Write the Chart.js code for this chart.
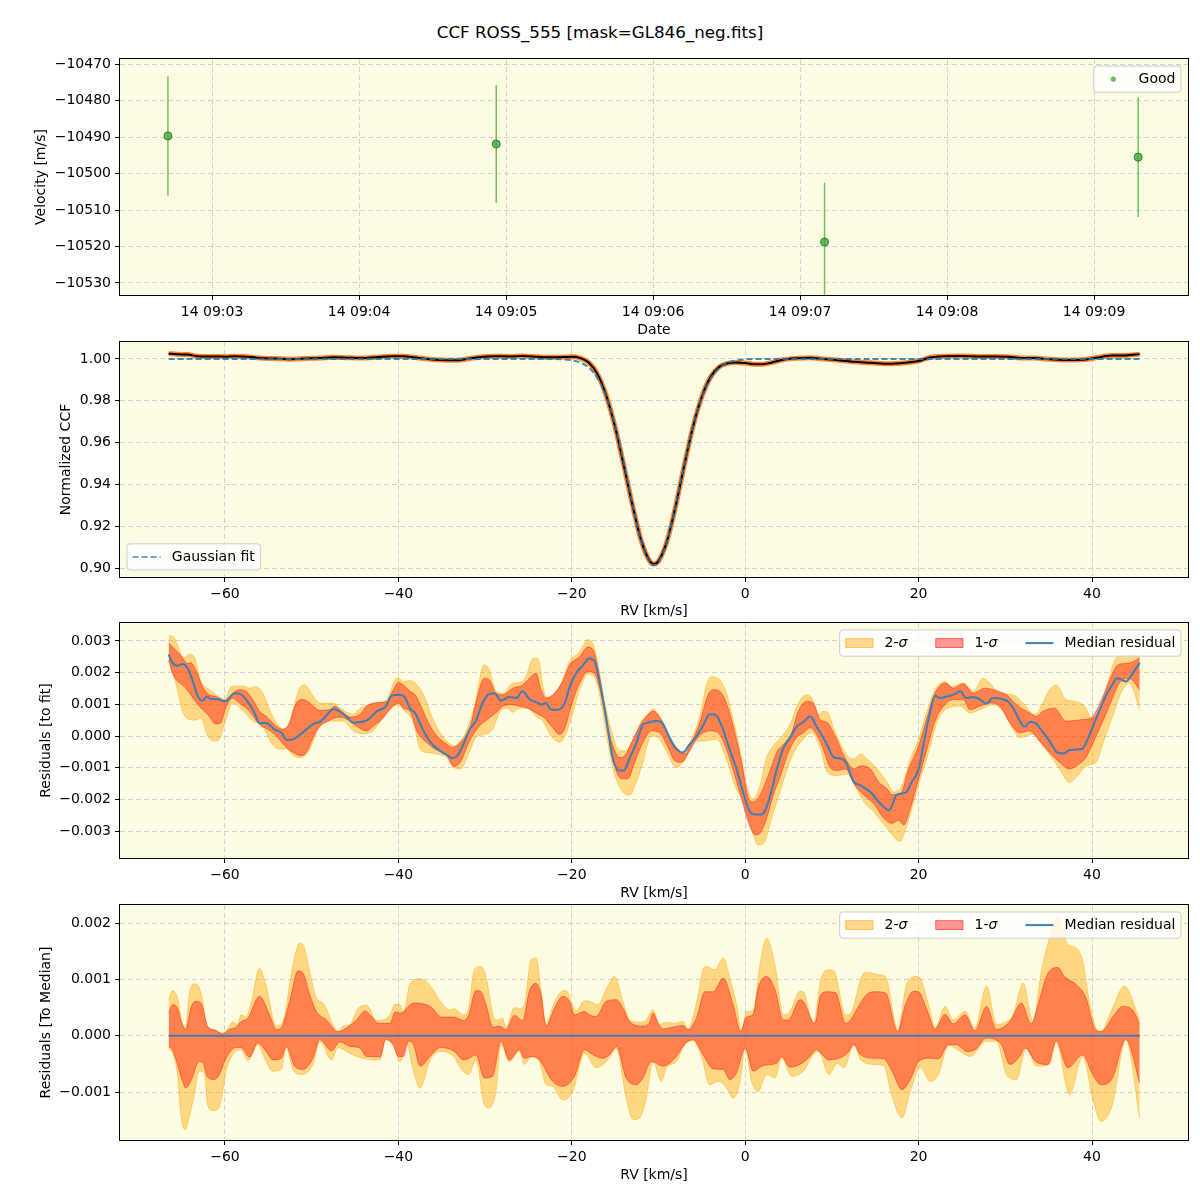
<!DOCTYPE html>
<html>
<head>
<meta charset="utf-8">
<script src="https://cdn.jsdelivr.net/npm/chart.js@4.4.1/dist/chart.umd.min.js"></script>
<style>
  html, body { margin: 0; padding: 0; background: #fff; }
  #page { position: relative; width: 1200px; height: 1200px; overflow: hidden; }
  #title { position: absolute; left: 0; top: 22px; width: 1200px; text-align: center;
           font-family: "DejaVu Sans", sans-serif; font-size: 16.7px; color: #000; }
  canvas { position: absolute; left: 0; }
</style>
</head>
<body>
<div id="page">
  <div id="title">CCF ROSS_555 [mask=GL846_neg.fits]</div>
  <canvas id="rvChart" width="1200" height="290" style="top:50px"></canvas>
  <canvas id="ccfChart" width="1200" height="280" style="top:340px"></canvas>
  <canvas id="fitResChart" width="1200" height="283" style="top:620px"></canvas>
  <canvas id="medResChart" width="1200" height="297" style="top:903px"></canvas>
</div>
<script>
// ---- panel 1: radial velocities ----
const obsTimes = ['09:02:42', '09:04:56', '09:07:10', '09:09:18'];
const rvValues = [-10489.7, -10491.9, -10518.8, -10495.5];
const rvErrors = [16.3, 16.2, 16.3, 16.4];
const timeTicks = [3, 4, 5, 6, 7, 8, 9];               // minutes after 09:00
const timeTickLabels = ['14 09:03', '14 09:04', '14 09:05', '14 09:06', '14 09:07', '14 09:08', '14 09:09'];
const rvTicks = [-10530, -10520, -10510, -10500, -10490, -10480, -10470];

// ---- panel 2: CCF and gaussian fit ([RV km/s, normalized CCF]) ----
const ccfObserved = [
  [-66.5,1.0026],[-65.5,1.0022],[-64.3,1.0021],[-63.2,1.0013],[-62.1,1.0012],[-61,1.0012],[-60,1.0011],
  [-58.9,1.0013],[-57.4,1.0011],[-56,1.0004],[-54.3,1.0002],[-52.6,0.9999],[-50.6,1.0002],[-49.1,1.0004],
  [-47.5,1.0008],[-46,1.0006],[-44.4,1.0004],[-42.5,1.0008],[-40.8,1.0013],[-39.4,1.0013],[-38.1,1.0007],
  [-36.1,0.9997],[-34.4,0.9994],[-33.2,0.9994],[-31.8,1.0002],[-30.3,1.0010],[-28.9,1.0013],[-27.2,1.0012],
  [-25.7,1.0014],[-23.9,1.0010],[-22.4,1.0008],[-20.8,1.0009],[-20,1.0010],[-19,1.0004],[-18,0.9981],
  [-17,0.9925],[-16,0.9821],[-15,0.9673],[-14,0.9490],[-13,0.9300],[-12,0.9132],[-11,0.9032],[-10.5,0.9019],
  [-10,0.9033],[-9,0.9131],[-8,0.9300],[-7,0.9496],[-6,0.9679],[-5,0.9819],[-4,0.9913],[-3,0.9962],
  [-2,0.9979],[-1,0.9983],[0,0.9980],[1,0.9975],[2,0.9975],[3,0.9982],[4.35,0.9996],[5.9,1.0003],
  [7.5,1.0006],[9,1.0000],[11,0.9993],[12.5,0.9986],[14.5,0.9982],[16.6,0.9977],[18.5,0.9982],[20,0.9990],
  [21.3,1.0007],[22.5,1.0012],[24.8,1.0014],[27.1,1.0012],[28.6,1.0012],[30.3,1.0011],[31.7,1.0005],
  [33.4,1.0004],[35.1,0.9998],[36.8,0.9995],[38.9,0.9996],[40.5,1.0006],[42.2,1.0016],[43.9,1.0017],[45.5,1.0023]
];
const ccfGaussFit = [
  [-66.5,1.0],[-22,0.99994],[-21,0.99978],[-20,0.99934],[-19,0.99822],[-18,0.99567],[-17,0.99057],
  [-16,0.98164],[-15,0.96799],[-14,0.95008],[-13,0.93033],[-12,0.91298],[-11,0.90276],[-10.5,0.9014],
  [-10,0.90276],[-9,0.91298],[-8,0.93033],[-7,0.95008],[-6,0.96799],[-5,0.98164],[-4,0.99057],[-3,0.99567],
  [-2,0.99822],[-1,0.99934],[0,0.99978],[1,0.99994],[45.5,1.0]
];
const rvAxisTicks = [-60, -40, -20, 0, 20, 40];
const ccfTicks = [0.90, 0.92, 0.94, 0.96, 0.98, 1.00];

// ---- panel 3: residuals to fit, units of 1e-3 ----
const fitResMedian = [
  [-66.5,2.58],[-66.06,2.31],[-65.5,2.22],[-64.9,2.27],[-64.3,2.14],[-63.7,1.72],[-63.2,1.30],[-62.6,1.11],
  [-62.1,1.25],[-61.6,1.17],[-61,1.17],[-60,1.09],[-58.9,1.35],[-58.3,1.33],[-57.4,1.09],[-56.6,0.73],
  [-56,0.40],[-55.3,0.42],[-54.3,0.21],[-53.5,0.10],[-52.9,-0.12],[-52.4,-0.12],[-51.8,-0.05],[-50.6,0.21],
  [-49.7,0.40],[-49.1,0.44],[-48.3,0.65],[-47.5,0.85],[-46.8,0.78],[-46,0.62],[-45.2,0.42],[-44.4,0.44],
  [-43.5,0.52],[-42.5,0.78],[-41.7,0.88],[-41.4,0.96],[-40.8,1.27],[-40,1.30],[-39.4,1.27],[-38.6,0.85],
  [-38.1,0.73],[-37.1,0.16],[-36.1,-0.26],[-35.2,-0.47],[-34.4,-0.60],[-33.8,-0.70],[-33.2,-0.62],[-32.5,-0.26],
  [-31.8,0.21],[-31.06,0.47],[-30.3,1.04],[-29.5,1.33],[-28.9,1.35],[-28.2,1.12],[-27.2,1.23],[-26.4,1.20],
  [-25.7,1.41],[-24.9,1.17],[-23.9,1.04],[-23.5,0.99],[-23,1.04],[-22.4,0.83],[-21.7,0.83],[-20.8,1.04],
  [-20.3,1.51],[-19.5,1.98],[-18.7,2.24],[-18,2.45],[-17.4,2.37],[-16.8,1.72],[-16,0.52],[-15.3,-0.68],
  [-14.5,-1.09],[-14,-1.09],[-13.3,-0.68],[-12.6,-0.26],[-11.8,0.36],[-11.2,0.42],[-10.4,0.47],[-9.7,0.45],
  [-8.9,0.05],[-8.1,-0.36],[-7.2,-0.52],[-6.4,-0.26],[-5.6,0.00],[-4.9,0.31],[-4.1,0.68],[-3.5,0.68],
  [-2.7,0.31],[-1.8,-0.42],[-1,-1.04],[-0.25,-1.77],[0.5,-2.37],[1.1,-2.48],[1.85,-2.48],[2.4,-2.29],
  [3,-1.77],[3.6,-1.09],[4.35,-0.42],[5.2,-0.05],[5.9,0.29],[6.7,0.44],[7.5,0.62],[8.2,0.31],[9,-0.05],
  [9.5,-0.31],[10.25,-0.68],[11,-0.71],[11.6,-0.83],[12.5,-1.44],[13.3,-1.56],[14.45,-1.77],[15.6,-2.14],
  [16.6,-2.34],[17.5,-1.85],[18.5,-1.79],[19.2,-1.46],[20,-1.04],[20.6,-0.21],[21.3,0.73],[21.9,1.27],
  [22.5,1.20],[23.25,1.25],[24,1.30],[24.8,1.41],[25.5,1.20],[26.3,1.23],[27.1,1.15],[27.8,1.02],[28.6,1.20],
  [29.6,1.17],[30.3,1.09],[30.9,0.88],[31.7,0.47],[32.2,0.29],[32.8,0.44],[33.4,0.42],[34.1,0.21],
  [35.1,-0.16],[36,-0.52],[36.8,-0.55],[37.4,-0.44],[38.9,-0.40],[39.5,-0.10],[40.5,0.57],[41.4,1.15],
  [42.2,1.56],[42.9,1.82],[43.9,1.72],[44.7,1.98],[45.5,2.31]
];
const fitRes2Hi = [
  [-66.5,3.18],[-65.87,3.10],[-64.71,2.45],[-64.13,2.58],[-63.55,2.50],[-62.78,1.72],[-61.81,1.46],
  [-61.04,1.30],[-60,1.15],[-59.3,1.56],[-57.95,1.58],[-57.18,1.51],[-56.41,1.56],[-55.64,1.35],[-54.86,0.83],
  [-54.09,0.42],[-53.32,0.23],[-52.74,0.31],[-52.16,0.83],[-51.39,1.51],[-50.81,1.61],[-50.04,1.35],
  [-49.07,1.04],[-47.53,1.04],[-46.76,0.89],[-45.79,0.73],[-45.21,0.68],[-44.63,0.83],[-43.47,0.99],
  [-42.51,1.04],[-41.35,1.15],[-40.39,1.77],[-40,1.84],[-39.42,1.72],[-38.65,1.75],[-38.07,1.67],[-37.1,1.30],
  [-36.14,0.62],[-35.17,0.10],[-34.02,-0.26],[-33.63,-0.31],[-32.47,0.00],[-31.31,0.85],[-30.1,2.24],
  [-29.5,2.08],[-28.75,1.41],[-27.98,1.35],[-26.8,1.67],[-25.66,1.72],[-25.1,2.03],[-24.5,2.45],[-23.93,2.45],
  [-23.16,1.35],[-22.58,1.20],[-21.23,1.67],[-20.27,2.34],[-19.1,2.66],[-18.15,3.04],[-17.57,2.92],[-17,2.29],
  [-16.03,0.83],[-15.26,0.00],[-14.68,-0.42],[-13.9,-0.47],[-12.95,-0.16],[-11.98,0.47],[-11.2,0.68],
  [-10.6,0.85],[-9.86,0.57],[-8.9,0.05],[-7.94,-0.36],[-7.17,-0.52],[-6.4,-0.21],[-5.24,0.62],[-4.47,1.61],
  [-3.9,1.87],[-3.12,1.82],[-2.16,1.35],[-1.39,0.52],[-0.62,-0.42],[0.15,-1.56],[0.92,-1.98],[1.7,-1.56],
  [2.47,-0.68],[3.24,-0.31],[4,-0.08],[5.16,0.36],[6.13,1.04],[7.09,1.30],[7.67,1.20],[8.44,0.68],[9.02,0.78],
  [9.5,0.75],[10.25,0.21],[11.78,-0.62],[12.54,-0.73],[13.31,-0.57],[14.07,-0.73],[15.22,-1.04],[16.37,-1.46],
  [17.13,-1.77],[18.09,-1.56],[19.04,-0.73],[20,-0.10],[20.96,0.78],[21.9,1.46],[23.06,1.72],[23.82,1.56],
  [25.16,1.67],[26.3,1.41],[27.46,1.82],[28.22,1.67],[29.37,1.35],[30.9,1.30],[32.05,1.04],[33.38,0.68],
  [35.1,1.46],[35.87,1.61],[37,1.15],[38.15,1.09],[39.31,0.88],[39.88,0.57],[40.84,0.78],[41.8,1.67],
  [42.75,2.45],[43.9,2.55],[45.5,2.55]
];
const fitRes1Hi = [
  [-66.5,2.94],[-65.87,2.76],[-65.1,2.55],[-64.32,2.29],[-63.94,2.31],[-63.36,2.08],[-62.59,1.56],[-61.81,1.30],
  [-61.04,1.25],[-60,1.12],[-59.11,1.35],[-58.34,1.46],[-57.57,1.41],[-56.8,1.15],[-56.02,0.78],[-55.25,0.62],
  [-54.09,0.31],[-53.32,0.21],[-52.55,0.42],[-51.78,1.04],[-51,1.15],[-50.23,1.04],[-49.07,0.81],[-47.92,0.83],
  [-47.34,0.94],[-46.56,0.78],[-45.6,0.60],[-44.44,0.68],[-43.67,0.94],[-42.12,1.06],[-41.35,1.08],[-40.58,1.46],
  [-40,1.69],[-39.42,1.61],[-38.65,1.41],[-38.07,1.30],[-37.3,0.88],[-36.33,0.31],[-35.37,-0.05],[-34.4,-0.26],
  [-33.82,-0.36],[-32.86,-0.21],[-31.7,0.31],[-31.06,1.04],[-30.1,1.82],[-29.5,1.77],[-28.75,1.35],[-27.98,1.30],
  [-26.8,1.51],[-25.66,1.61],[-24.9,1.82],[-24.12,1.98],[-23.55,1.46],[-22.97,1.20],[-22.2,1.30],[-21.04,1.72],
  [-20.27,2.24],[-19.1,2.50],[-18.15,2.81],[-17.57,2.73],[-16.8,1.87],[-16.03,0.52],[-15.26,-0.31],[-14.49,-0.68],
  [-13.9,-0.62],[-12.95,-0.10],[-11.8,0.47],[-10.6,0.78],[-9.67,0.52],[-8.71,-0.05],[-7.75,-0.42],[-6.98,-0.57],
  [-6.2,-0.21],[-5.24,0.42],[-4.28,1.30],[-3.7,1.46],[-2.93,1.41],[-1.97,0.88],[-1.2,0.10],[-0.42,-0.83],
  [0.35,-1.93],[0.92,-2.08],[1.7,-1.87],[2.66,-1.25],[3.62,-0.52],[4.59,-0.21],[5.36,0.10],[6.13,0.78],
  [7.09,1.09],[7.86,1.04],[8.63,0.52],[9.48,0.42],[10.44,-0.05],[11.59,-0.73],[12.54,-1.04],[13.31,-0.94],
  [14.45,-1.04],[15.41,-1.46],[16.37,-1.67],[16.94,-1.85],[17.9,-1.82],[18.85,-1.04],[20,-0.31],[20.96,0.57],
  [21.9,1.35],[23.06,1.67],[24,1.51],[25.16,1.65],[26.3,1.35],[27.65,1.51],[28.6,1.46],[30.13,1.30],
  [31.28,0.99],[32.81,0.73],[33.58,0.62],[34.34,0.78],[35.68,0.88],[37,0.47],[38.93,0.52],[39.88,0.57],
  [40.84,0.99],[41.98,1.72],[42.94,2.24],[43.9,2.29],[44.67,2.34],[45.5,2.47]
];
const fitRes1Lo = [
  [-66.5,2.40],[-66.06,1.98],[-64.52,1.51],[-62.97,0.94],[-62,0.68],[-61.04,0.38],[-60.46,0.42],[-60,0.83],
  [-59.11,1.20],[-58.34,1.04],[-57.18,0.78],[-56.02,0.36],[-55.06,0.21],[-54.09,0.00],[-52.93,-0.36],
  [-52.16,-0.52],[-51.2,-0.62],[-50.62,-0.52],[-49.85,-0.05],[-49.07,0.31],[-47.92,0.50],[-46.76,0.60],
  [-45.6,0.47],[-44.83,0.31],[-43.67,0.16],[-42.9,0.31],[-41.74,0.57],[-40.97,0.85],[-40,1.04],[-39.42,0.88],
  [-38.65,0.78],[-37.88,0.16],[-36.72,-0.21],[-35.75,-0.42],[-34.4,-0.62],[-33.63,-0.96],[-32.86,-0.83],
  [-31.8,-0.15],[-30.67,0.31],[-29.52,0.57],[-28.55,0.78],[-27.98,0.94],[-27,0.99],[-26.05,0.94],[-25.09,0.88],
  [-24.12,0.73],[-23.16,0.57],[-22.2,0.26],[-21.43,0.05],[-20.85,0.21],[-20.08,0.94],[-19.1,1.67],[-18.15,2.03],
  [-17.38,1.98],[-16.61,1.30],[-15.84,0.10],[-15.07,-0.94],[-14.3,-1.35],[-13.53,-1.35],[-12.76,-0.83],
  [-11.8,-0.21],[-10.83,0.16],[-9.87,0.10],[-8.9,-0.36],[-8.13,-0.78],[-7.36,-0.83],[-6.4,-0.47],[-5.63,-0.10],
  [-4.86,0.10],[-3.9,0.16],[-3.12,0.10],[-2.16,-0.42],[-1.2,-1.25],[-0.42,-1.98],[0.35,-2.71],[1.12,-3.12],
  [1.7,-3.07],[2.47,-2.60],[3.24,-1.87],[4.2,-1.15],[4.97,-0.52],[5.93,-0.05],[6.7,0.10],[7.48,0.26],
  [8.44,-0.05],[9.21,-0.57],[9.67,-0.94],[10.63,-1.09],[11.59,-1.04],[12.54,-1.51],[13.69,-1.87],[14.84,-2.14],
  [15.98,-2.60],[16.94,-2.76],[17.7,-2.66],[18.28,-2.81],[19.04,-2.29],[20,-1.35],[20.96,-0.42],[21.9,0.47],
  [22.87,0.94],[24,1.15],[25.16,1.15],[25.9,0.83],[27.07,0.94],[28.22,1.04],[29.37,0.94],[30.52,0.42],
  [31.66,0.10],[32.81,0.16],[33.96,-0.16],[35.1,-0.52],[36.25,-0.83],[37.4,-1.04],[38.54,-0.88],[39.31,-0.68],
  [40.46,0.00],[41.41,0.57],[42.37,1.20],[43.14,1.67],[44.28,1.82],[45.5,1.46]
];
const fitRes2Lo = [
  [-66.5,2.40],[-65.68,1.67],[-64.9,0.78],[-64.13,0.52],[-63.36,0.50],[-62.78,0.57],[-62,0.00],[-61.24,-0.16],
  [-60.66,-0.10],[-60,0.42],[-59.11,1.04],[-57.95,0.81],[-56.8,0.47],[-55.64,0.31],[-54.67,-0.21],[-53.71,-0.42],
  [-52.93,-0.40],[-52.16,-0.62],[-51.2,-0.68],[-50.23,-0.42],[-49.27,0.21],[-47.53,0.47],[-46.37,0.47],
  [-45.21,0.16],[-44.05,0.07],[-43.28,0.10],[-41.35,0.73],[-40,0.99],[-39.42,0.83],[-38.26,0.42],[-37.49,-0.42],
  [-36.72,-0.52],[-35.56,-0.57],[-34.4,-0.68],[-33.63,-0.99],[-32.86,-1.04],[-31.8,-0.50],[-31.06,-0.05],
  [-30.1,0.05],[-29.13,0.21],[-28.36,0.73],[-27.4,0.88],[-26.82,0.75],[-26.05,0.88],[-25.09,0.88],[-24.12,0.62],
  [-23.35,0.47],[-22.39,0.00],[-21.43,-0.19],[-20.85,-0.05],[-19.88,0.73],[-19.1,1.46],[-18.15,1.95],
  [-17.38,1.85],[-16.61,1.04],[-15.84,-0.21],[-15.07,-1.20],[-14.1,-1.77],[-13.33,-1.87],[-12.56,-1.46],
  [-11.8,-0.83],[-10.83,0.00],[-10.06,-0.05],[-9.1,-0.47],[-7.94,-0.99],[-7.17,-0.83],[-6.4,-0.42],[-5.63,-0.16],
  [-4.86,-0.16],[-3.31,-0.10],[-2.16,-0.73],[-1.2,-1.56],[-0.23,-2.08],[0.73,-2.92],[1.5,-3.44],[2.27,-3.33],
  [3.04,-2.60],[4,-1.77],[4.97,-0.94],[5.93,-0.36],[6.7,-0.10],[7.67,0.10],[8.63,-0.36],[9.48,-1.15],
  [10.63,-1.25],[11.78,-1.20],[12.73,-1.61],[13.69,-2.08],[14.84,-2.40],[16.37,-2.92],[17.9,-3.33],[18.47,-2.97],
  [19.24,-2.29],[20.19,-1.35],[21.15,-0.52],[22.1,0.42],[23.06,0.83],[24.78,0.94],[25.93,0.73],[27.07,0.83],
  [28.6,0.99],[29.75,0.78],[30.9,0.21],[31.66,-0.05],[33.19,0.05],[34.34,-0.31],[35.49,-0.73],[36.25,-1.04],
  [37.4,-1.46],[38.36,-1.25],[39.31,-0.94],[40.46,-0.83],[41.41,-0.10],[42.37,0.62],[43.33,1.35],[44.28,1.67],
  [45.5,0.83]
];
const fitResTicks = [-3, -2, -1, 0, 1, 2, 3];

// ---- panel 4: residuals to median, units of 1e-3 ----
const medResMedian = [[-66.5,0],[45.5,0]];
const medRes2Hi = [
  [-66.5,0.64],[-66.06,0.80],[-65.48,0.67],[-64.98,0.25],[-64.52,0.14],[-64.13,0.73],[-63.55,0.92],[-62.97,0.85],
  [-62.59,0.64],[-62.12,0.18],[-61.24,0.11],[-60.46,0.05],[-59.88,0.08],[-59.11,0.24],[-58.53,0.20],[-58.15,0.37],
  [-57.57,0.33],[-56.99,0.58],[-56.02,1.19],[-55.25,0.88],[-54.09,0.17],[-53.32,0.25],[-52.16,1.26],[-51.39,1.64],
  [-51,1.62],[-50.23,1.14],[-49.46,0.67],[-48.69,0.58],[-46.95,0.08],[-46.37,0.17],[-45.6,0.20],[-44.63,0.49],
  [-43.67,0.54],[-42.51,0.27],[-41.74,0.28],[-40.97,0.37],[-40.39,0.56],[-39.8,0.55],[-39.42,0.40],[-38.65,0.93],
  [-37.49,1.01],[-36.14,0.85],[-35.17,0.61],[-34.02,0.46],[-33.63,0.48],[-32.47,0.37],[-31.89,0.49],[-31.25,1.17],
  [-30.48,1.23],[-29.9,1.05],[-28.94,0.31],[-28.55,0.28],[-27.98,0.31],[-27.59,0.14],[-26.63,0.50],[-26.05,0.48],
  [-25.47,0.55],[-24.7,1.35],[-24.12,1.38],[-23.55,0.82],[-22.97,0.20],[-22.2,0.52],[-21.23,0.78],[-20.66,0.80],
  [-20.08,0.61],[-19.5,0.44],[-18.54,0.62],[-17.96,0.61],[-17,0.55],[-16.03,0.82],[-15.07,1.05],[-14.1,0.61],
  [-13.33,0.28],[-12.18,0.24],[-11.6,0.25],[-10.64,0.46],[-9.87,0.20],[-9.1,0.24],[-8.13,0.22],[-7.17,0.25],
  [-6.59,0.11],[-5.63,0.58],[-4.66,1.23],[-4.08,1.21],[-3.51,1.17],[-2.54,1.38],[-1.77,1.02],[-1,0.55],
  [-0.42,0.08],[0.15,0.43],[0.92,0.44],[1.7,1.26],[2.47,1.73],[3.43,1.26],[4.39,0.37],[5.16,0.43],[6.32,0.79],
  [6.7,0.78],[7.86,0.22],[8.72,0.99],[9.48,1.17],[10.25,1.14],[11.59,0.37],[12.16,0.40],[13.69,1.11],[14.26,1.12],
  [15.41,1.08],[16.18,1.05],[17.59,0.11],[18.66,0.93],[19.81,1.05],[20.19,1.02],[21.15,0.55],[21.9,0.14],
  [23.06,0.52],[24,0.28],[25.35,0.43],[26.5,0.14],[27.84,0.88],[28.99,0.20],[30.13,0.25],[30.9,0.37],[32.05,0.93],
  [33.2,0.25],[34.15,1.14],[35.1,1.73],[36.06,2.10],[37.21,1.62],[38.16,1.56],[38.93,1.32],[39.69,0.61],
  [40.46,0.14],[41.03,0.08],[42.37,0.49],[43.71,0.88],[45.5,0.28]
];
const medRes1Hi = [
  [-66.5,0.40],[-66.06,0.55],[-65.48,0.49],[-64.98,0.22],[-64.52,0.11],[-63.94,0.49],[-63.44,0.61],[-62.78,0.58],
  [-62,0.17],[-61.04,0.09],[-60.27,0.03],[-59.5,0.11],[-58.73,0.15],[-58.15,0.25],[-57.37,0.31],[-56.02,0.70],
  [-54.86,0.37],[-54.09,0.11],[-53.51,0.14],[-52.55,0.61],[-51.58,1.15],[-51,1.11],[-50.23,0.73],[-49.46,0.43],
  [-48.3,0.28],[-46.95,0.07],[-45.98,0.14],[-44.83,0.28],[-43.86,0.44],[-43.09,0.34],[-42.32,0.22],[-40.97,0.22],
  [-40.39,0.42],[-39.8,0.40],[-38.65,0.55],[-38.26,0.58],[-36.33,0.52],[-34.98,0.33],[-33.63,0.33],[-32.47,0.27],
  [-31.89,0.37],[-31.06,0.80],[-30.48,0.78],[-29.9,0.55],[-29.06,0.15],[-28.36,0.17],[-27.59,0.11],[-26.63,0.36],
  [-25.66,0.27],[-24.9,0.79],[-24.12,0.93],[-23.55,0.73],[-22.97,0.17],[-22,0.49],[-21.04,0.70],[-20.27,0.61],
  [-19.69,0.37],[-18.54,0.43],[-17.96,0.37],[-17.19,0.34],[-16.03,0.61],[-14.87,0.64],[-14.1,0.49],[-13.33,0.25],
  [-11.79,0.17],[-11.02,0.24],[-10.64,0.40],[-10.06,0.22],[-9.48,0.12],[-8.71,0.14],[-7.17,0.18],[-6.59,0.11],
  [-5.63,0.31],[-4.66,0.78],[-3.7,0.78],[-2.54,1.02],[-1.39,0.55],[-0.54,0.08],[0.15,0.33],[0.92,0.38],[1.5,0.85],
  [2.47,1.05],[3.43,0.82],[4.39,0.28],[4.97,0.28],[6.32,0.64],[6.7,0.61],[8.05,0.22],[8.72,0.73],[9.48,0.78],
  [10.44,0.76],[11.59,0.22],[12.16,0.28],[12.73,0.43],[14.07,0.74],[15.03,0.78],[16.18,0.76],[17.59,0.07],
  [18.47,0.55],[19.43,0.79],[20,0.78],[20.96,0.46],[21.9,0.12],[23.06,0.38],[24,0.21],[25.35,0.37],[26.5,0.09],
  [27.84,0.52],[28.99,0.11],[30.52,0.25],[31.85,0.58],[33,0.21],[33.77,0.55],[34.91,1.11],[36.06,1.21],
  [36.83,1.05],[38.16,0.91],[39.31,0.67],[40.27,0.14],[41.03,0.07],[42.56,0.37],[43.52,0.52],[44.67,0.46],
  [45.5,0.20]
];
const medRes1Lo = [
  [-66.5,-0.19],[-66.06,-0.25],[-65.48,-0.51],[-64.9,-0.81],[-64.52,-0.93],[-63.94,-0.81],[-62.97,-0.46],
  [-62.59,-0.47],[-62,-0.74],[-61.24,-0.78],[-60.66,-0.69],[-59.88,-0.40],[-58.73,-0.21],[-58.15,-0.21],
  [-57.18,-0.38],[-56.22,-0.13],[-55.25,-0.28],[-54.48,-0.43],[-53.51,-0.40],[-52.93,-0.19],[-51.97,-0.54],
  [-51,-0.60],[-49.85,-0.40],[-49.07,-0.07],[-47.72,-0.27],[-46.76,-0.11],[-45.6,-0.19],[-44.44,-0.22],
  [-43.67,-0.37],[-42.9,-0.37],[-42.12,-0.38],[-41.47,-0.07],[-40.58,-0.16],[-40,-0.37],[-39.42,-0.37],
  [-38.84,-0.10],[-38.26,-0.16],[-37.49,-0.54],[-36.14,-0.33],[-35.17,-0.21],[-33.63,-0.27],[-32.47,-0.43],
  [-31.83,-0.40],[-31.06,-0.34],[-30.1,-0.75],[-29.13,-0.72],[-28.17,-0.10],[-27.2,-0.43],[-26.05,-0.25],
  [-25.47,-0.40],[-24.51,-0.37],[-23.74,-0.43],[-22.2,-0.81],[-21.04,-0.90],[-19.69,-0.72],[-18.54,-0.25],
  [-17.57,-0.34],[-16.42,-0.40],[-15.65,-0.34],[-14.87,-0.19],[-13.72,-0.75],[-12.56,-0.87],[-11.79,-0.75],
  [-10.83,-0.46],[-9.48,-0.54],[-7.94,-0.37],[-6.98,-0.15],[-6.01,-0.07],[-4.86,-0.34],[-3.7,-0.59],
  [-2.54,-0.60],[-1.77,-0.78],[-1,-0.66],[0,-0.22],[0.92,-0.63],[2.08,-0.53],[3.62,-0.49],[4.2,-0.37],
  [5.16,-0.56],[6.32,-0.51],[7.28,-0.40],[8.25,-0.25],[8.72,-0.31],[9.67,-0.43],[10.82,-0.40],[11.78,-0.31],
  [12.54,-0.16],[13.31,-0.34],[14.84,-0.40],[15.98,-0.41],[16.94,-0.63],[18.09,-0.96],[19.04,-0.78],[20,-0.46],
  [21.34,-0.40],[22.29,-0.41],[23.44,-0.16],[24.4,-0.16],[25.54,-0.28],[26.5,-0.25],[27.84,-0.04],[28.8,-0.07],
  [29.56,-0.16],[30.52,-0.51],[31.66,-0.37],[32.24,-0.22],[33.58,-0.47],[34.91,-0.51],[35.87,-0.10],[37.21,-0.57],
  [38.93,-0.34],[40.08,-0.69],[41.03,-0.87],[42.37,-0.75],[43.9,-0.07],[45.5,-0.84]
];
const medRes2Lo = [
  [-66.5,-0.25],[-66.06,-0.31],[-65.48,-0.69],[-65.1,-1.40],[-64.6,-1.67],[-64.13,-1.46],[-63.55,-1.05],
  [-62.97,-0.63],[-62.39,-0.66],[-62,-1.23],[-61.43,-1.33],[-60.85,-1.31],[-60.46,-1.17],[-59.88,-0.63],
  [-59.11,-0.34],[-58.15,-0.25],[-57.37,-0.44],[-56.22,-0.16],[-55.44,-0.40],[-54.48,-0.63],[-53.51,-0.60],
  [-52.93,-0.22],[-52.16,-0.60],[-51.2,-0.69],[-49.85,-0.51],[-49.07,-0.10],[-47.72,-0.43],[-46.95,-0.21],
  [-45.98,-0.28],[-44.83,-0.37],[-43.86,-0.41],[-42.9,-0.43],[-42.12,-0.43],[-41.47,-0.07],[-40.58,-0.19],
  [-39.8,-0.46],[-39.03,-0.16],[-38.26,-0.63],[-37.49,-0.93],[-36.33,-0.43],[-35.17,-0.28],[-33.63,-0.37],
  [-32.86,-0.57],[-31.89,-0.69],[-31.06,-0.43],[-30.1,-1.22],[-29.52,-1.28],[-28.75,-0.99],[-28.17,-0.16],
  [-27.2,-0.46],[-26.05,-0.28],[-25.47,-0.51],[-24.7,-0.38],[-23.74,-0.46],[-22.97,-0.87],[-22.2,-0.90],
  [-21.04,-1.14],[-19.88,-0.99],[-18.54,-0.31],[-17.19,-0.57],[-15.84,-0.43],[-14.87,-0.23],[-13.72,-1.11],
  [-12.95,-1.49],[-12.18,-1.46],[-11.41,-1.11],[-10.64,-0.46],[-9.67,-0.81],[-9.1,-0.57],[-7.94,-0.46],
  [-6.98,-0.16],[-6.01,-0.09],[-5.05,-0.37],[-4.08,-0.87],[-3.12,-0.81],[-2.16,-0.93],[-1.39,-1.11],
  [-0.62,-0.84],[0,-0.22],[0.73,-0.81],[1.5,-0.99],[2.47,-0.69],[3.43,-0.75],[4.2,-0.40],[5.36,-0.72],
  [6.7,-0.63],[7.86,-0.34],[8.44,-0.28],[9.67,-0.69],[10.63,-0.49],[11.4,-0.57],[12.54,-0.16],[13.31,-0.43],
  [14.84,-0.51],[15.98,-0.54],[16.94,-1.08],[18.09,-1.46],[19.04,-0.99],[20.19,-0.57],[21.34,-0.81],
  [22.29,-0.69],[23.44,-0.17],[24.78,-0.28],[25.93,-0.37],[27.84,-0.10],[28.99,-0.10],[30.13,-0.69],
  [31.28,-0.78],[32.43,-0.22],[33.58,-0.54],[35.1,-0.51],[35.87,-0.10],[37.4,-1.05],[38.93,-0.37],
  [40.08,-1.11],[41.03,-1.52],[42.37,-1.22],[43.9,-0.07],[45.5,-1.46]
];
const medResTicks = [-1, 0, 1, 2];
const RES_UNIT = 1e-3;

// ---- look ----
const FONT = '"DejaVu Sans", sans-serif';
const PANEL_BG = '#fdfbe1';
const GRID = '#d2d2d2';
const S2_FILL = 'rgba(255,165,0,0.42)';
const S1_FILL = 'rgba(255,0,0,0.40)';
const MED_COLOR = '#3f7fb6';

Chart.defaults.font.family = FONT;
Chart.defaults.font.size = 14;
Chart.defaults.color = '#000';
Chart.defaults.animation = false;
Chart.defaults.plugins.legend.display = false;
Chart.defaults.plugins.tooltip.enabled = false;
Chart.defaults.events = [];

const minus = s => String(s).replace('-', '\u2212');
const xy = (pairs, k = 1) => pairs.map(p => ({x: p[0], y: p[1] * k}));
const toMinutes = t => { const [h, m, s] = t.split(':').map(Number); return (h - 9) * 60 + m + s / 60; };

// axis area fill + full black frame like matplotlib spines
const panelFrame = {
  id: 'panelFrame',
  beforeDraw(chart) {
    const a = chart.chartArea, ctx = chart.ctx;
    ctx.save();
    ctx.fillStyle = PANEL_BG;
    ctx.fillRect(a.left, a.top, a.right - a.left, a.bottom - a.top);
    ctx.restore();
  },
  afterDraw(chart) {
    const a = chart.chartArea, ctx = chart.ctx;
    ctx.save();
    ctx.strokeStyle = '#000';
    ctx.lineWidth = 1;
    ctx.strokeRect(Math.round(a.left) - 0.5, Math.round(a.top) - 0.5,
                   Math.round(a.right - a.left) + 1, Math.round(a.bottom - a.top) + 1);
    ctx.restore();
  }
};

// matplotlib-style legend drawn inside the axes
const insideLegend = {
  id: 'insideLegend',
  afterDraw(chart, args, opts) {
    const items = opts.items;
    if (!items || !items.length) return;
    const ctx = chart.ctx, a = chart.chartArea;
    const fs = 14, handle = 28, tpad = 11.2, colGap = 28, bpad = 5.6, textH = 15;
    ctx.save();
    const fontOf = p => (p.italic ? 'italic ' : '') + fs + 'px ' + FONT;
    const partsWidth = parts => parts.reduce((w, p) => { ctx.font = fontOf(p); return w + ctx.measureText(p.t).width; }, 0);
    const widths = items.map(it => handle + tpad + partsWidth(it.parts));
    const w = widths.reduce((s, v) => s + v, 0) + colGap * (items.length - 1) + 2 * bpad;
    const h = textH + 2 * bpad;
    const x0 = opts.corner === 'bl' ? a.left + 7 : a.right - 7 - w;
    const y0 = opts.corner === 'bl' ? a.bottom - 7 - h : a.top + 7;
    const r = 3;
    ctx.beginPath();
    ctx.moveTo(x0 + r, y0);
    ctx.arcTo(x0 + w, y0, x0 + w, y0 + h, r);
    ctx.arcTo(x0 + w, y0 + h, x0, y0 + h, r);
    ctx.arcTo(x0, y0 + h, x0, y0, r);
    ctx.arcTo(x0, y0, x0 + w, y0, r);
    ctx.closePath();
    ctx.fillStyle = 'rgba(255,255,255,0.8)';
    ctx.fill();
    ctx.strokeStyle = '#cccccc';
    ctx.lineWidth = 1;
    ctx.stroke();
    let x = x0 + bpad;
    const cy = y0 + h / 2;
    items.forEach((it, i) => {
      if (it.kind === 'patch') {
        ctx.fillStyle = it.fill;
        ctx.fillRect(x, cy - 4.9, handle, 9.8);
        ctx.strokeStyle = it.fill;
        ctx.strokeRect(x + 0.5, cy - 4.4, handle - 1, 8.8);
      } else if (it.kind === 'line') {
        ctx.strokeStyle = it.color;
        ctx.lineWidth = it.width;
        ctx.setLineDash(it.dash || []);
        ctx.beginPath();
        ctx.moveTo(x, cy);
        ctx.lineTo(x + handle, cy);
        ctx.stroke();
        ctx.setLineDash([]);
      } else if (it.kind === 'dot') {
        ctx.fillStyle = it.color;
        ctx.beginPath();
        ctx.arc(x + handle / 2, cy, 2.6, 0, Math.PI * 2);
        ctx.fill();
      }
      let tx = x + handle + tpad;
      ctx.fillStyle = '#000';
      ctx.textAlign = 'left';
      ctx.textBaseline = 'middle';
      it.parts.forEach(p => {
        ctx.font = fontOf(p);
        ctx.fillText(p.t, tx, cy);
        tx += ctx.measureText(p.t).width;
      });
      x += widths[i] + colGap;
    });
    ctx.restore();
  }
};

function gridStyle() {
  return {
    grid: { color: GRID, lineWidth: 1, tickColor: '#000', tickLength: 5, tickWidth: 1 },
    border: { display: false, dash: [5, 3] }
  };
}

function xAxis(min, max, ticks, fmt, label, height, titlePad) {
  return Object.assign({
    type: 'linear', min, max, bounds: 'data',
    afterBuildTicks: s => { s.ticks = ticks.map(v => ({value: v})); },
    afterFit: s => { s.height = height; s.paddingLeft = 0; s.paddingRight = 0; },
    ticks: { callback: fmt, padding: 4, maxRotation: 0, autoSkip: false },
    title: { display: true, text: label, padding: {top: 0, bottom: titlePad} }
  }, gridStyle());
}

function yAxis(min, max, ticks, fmt, label, titlePad) {
  return Object.assign({
    type: 'linear', min, max, bounds: 'data',
    afterBuildTicks: s => { s.ticks = ticks.map(v => ({value: v})); },
    afterFit: s => { s.width = 120; s.paddingTop = 0; s.paddingBottom = 0; },
    ticks: { callback: fmt, padding: 4, autoSkip: false },
    title: { display: true, text: label, padding: {top: titlePad, bottom: 0} }
  }, gridStyle());
}

function bandDatasets(median, hi1, lo1, hi2, lo2, k) {
  const line = { showLine: true, pointRadius: 0, cubicInterpolationMode: 'monotone' };
  return [
    Object.assign({ data: xy(median, k), borderColor: MED_COLOR, borderWidth: 2, order: 0 }, line),
    Object.assign({ data: xy(hi1, k), borderColor: S1_FILL, backgroundColor: S1_FILL, borderWidth: 1, fill: 2, order: 1 }, line),
    Object.assign({ data: xy(lo1, k), borderColor: S1_FILL, borderWidth: 1, fill: false, order: 1 }, line),
    Object.assign({ data: xy(hi2, k), borderColor: S2_FILL, backgroundColor: S2_FILL, borderWidth: 1, fill: 4, order: 2 }, line),
    Object.assign({ data: xy(lo2, k), borderColor: S2_FILL, borderWidth: 1, fill: false, order: 2 }, line)
  ];
}

const sigmaLegend = [
  { kind: 'patch', fill: S2_FILL, parts: [{t: '2-'}, {t: '\u03c3', italic: true}] },
  { kind: 'patch', fill: S1_FILL, parts: [{t: '1-'}, {t: '\u03c3', italic: true}] },
  { kind: 'line', color: MED_COLOR, width: 2, parts: [{t: 'Median residual'}] }
];

const rvAxisFmt = v => minus(v);

// ---- panel 1 ----
const obsMinutes = obsTimes.map(toMinutes);
const errBarSets = obsMinutes.map((t, i) => ({
  data: [{x: t, y: rvValues[i] - rvErrors[i]}, {x: t, y: rvValues[i] + rvErrors[i]}],
  showLine: true, pointRadius: 0, borderColor: '#72c162', borderWidth: 1.5, order: 2
}));
new Chart(document.getElementById('rvChart'), {
  type: 'scatter',
  data: {
    datasets: [{
      data: obsMinutes.map((t, i) => ({x: t, y: rvValues[i]})),
      pointRadius: 4, pointBackgroundColor: 'rgba(60,160,60,0.75)',
      pointBorderColor: 'rgba(30,120,30,0.9)', pointBorderWidth: 1, order: 1
    }].concat(errBarSets)
  },
  options: {
    responsive: false,
    layout: { padding: { top: 9, right: 12, left: 0, bottom: 0 } },
    scales: {
      x: xAxis(2.374, 9.639, timeTicks, (v, i) => timeTickLabels[i], 'Date', 45, 1.6),
      y: yAxis(-10533.3, -10468.6, rvTicks, v => minus(v), 'Velocity [m/s]', 32.6)
    },
    plugins: { insideLegend: { corner: 'tr', items: [{ kind: 'dot', color: 'rgba(60,160,60,0.75)', parts: [{t: 'Good'}] }] } }
  },
  plugins: [panelFrame, insideLegend]
});

// ---- panel 2 ----
new Chart(document.getElementById('ccfChart'), {
  type: 'scatter',
  data: {
    datasets: [
      { data: xy(ccfGaussFit), showLine: true, pointRadius: 0, borderColor: 'rgba(31,119,180,0.85)',
        borderWidth: 2, borderDash: [6, 3], cubicInterpolationMode: 'monotone', order: 0 },
      { data: xy(ccfObserved), showLine: true, pointRadius: 0, borderColor: '#000',
        borderWidth: 2, cubicInterpolationMode: 'monotone', order: 1 },
      { data: xy(ccfObserved), showLine: true, pointRadius: 0, borderColor: 'rgba(255,110,20,0.85)',
        borderWidth: 5, cubicInterpolationMode: 'monotone', order: 2 }
    ]
  },
  options: {
    responsive: false,
    layout: { padding: { top: 2, right: 12, left: 0, bottom: 0 } },
    scales: {
      x: xAxis(-72.11, 51.07, rvAxisTicks, rvAxisFmt, 'RV [km/s]', 43, 0.6),
      y: yAxis(0.8957, 1.0081, ccfTicks, v => v.toFixed(2), 'Normalized CCF', 57.6)
    },
    plugins: { insideLegend: { corner: 'bl', items: [{ kind: 'line', color: 'rgba(31,119,180,0.85)', width: 1.5, dash: [6, 3], parts: [{t: 'Gaussian fit'}] }] } }
  },
  plugins: [panelFrame, insideLegend]
});

// ---- panel 3 ----
new Chart(document.getElementById('fitResChart'), {
  type: 'scatter',
  data: { datasets: bandDatasets(fitResMedian, fitRes1Hi, fitRes1Lo, fitRes2Hi, fitRes2Lo, RES_UNIT) },
  options: {
    responsive: false,
    layout: { padding: { top: 3, right: 12, left: 0, bottom: 0 } },
    scales: {
      x: xAxis(-72.11, 51.07, rvAxisTicks, rvAxisFmt, 'RV [km/s]', 45, 1.6),
      y: yAxis(-0.003852, 0.003568, fitResTicks.map(v => v * RES_UNIT), v => minus(v.toFixed(3)), 'Residuals [to fit]', 37.6)
    },
    plugins: { insideLegend: { corner: 'tr', items: sigmaLegend } }
  },
  plugins: [panelFrame, insideLegend]
});

// ---- panel 4 ----
new Chart(document.getElementById('medResChart'), {
  type: 'scatter',
  data: { datasets: bandDatasets(medResMedian, medRes1Hi, medRes1Lo, medRes2Hi, medRes2Lo, RES_UNIT) },
  options: {
    responsive: false,
    layout: { padding: { top: 2, right: 12, left: 0, bottom: 0 } },
    scales: {
      x: xAxis(-72.11, 51.07, rvAxisTicks, rvAxisFmt, 'RV [km/s]', 60, 16.6),
      y: yAxis(-0.001852, 0.00232, medResTicks.map(v => v * RES_UNIT), v => minus(v.toFixed(3)), 'Residuals [To Median]', 37.6)
    },
    plugins: { insideLegend: { corner: 'tr', items: sigmaLegend } }
  },
  plugins: [panelFrame, insideLegend]
});
</script>
</body>
</html>
